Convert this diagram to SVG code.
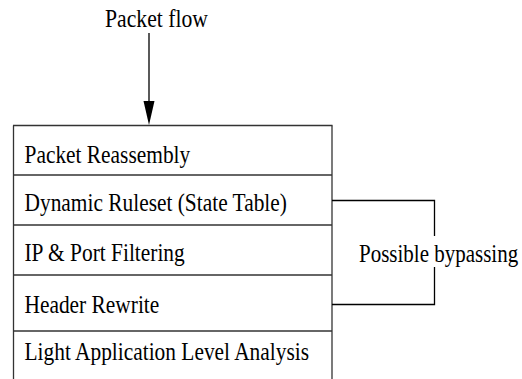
<svg xmlns="http://www.w3.org/2000/svg" width="522" height="379" viewBox="0 0 522 379">
<style>
text{font-family:"Liberation Serif","Times New Roman",serif;font-size:21.4px;fill:#000}
.ln{stroke:#333;stroke-width:1.3;fill:none}
.cn{stroke:#000;stroke-width:1.3;fill:none}
</style>
<rect width="522" height="379" fill="#fff"/>
<g id="label-packet-flow"><text style="font-size:21.7px" transform="translate(105,26.5) scale(1,1.12)">Packet flow</text></g>
<g id="stack">
<line class="ln" x1="13.5" y1="125.5" x2="13.5" y2="379"/>
<line class="ln" x1="332" y1="125.5" x2="332" y2="379"/>
<line class="ln" x1="13" y1="125.5" x2="332.5" y2="125.5"/>
</g>
<g id="row-packet-reassembly">
<text transform="translate(24.5,163) scale(1,1.15)">Packet Reassembly</text>
<line class="ln" x1="13" y1="175" x2="332" y2="175"/>
</g>
<g id="row-dynamic-ruleset">
<text transform="translate(24.5,211) scale(1,1.15)">Dynamic Ruleset (State Table)</text>
<line class="ln" x1="13" y1="225" x2="332" y2="225"/>
</g>
<g id="row-ip-port">
<text transform="translate(24.5,261) scale(1,1.15)">IP &amp; Port Filtering</text>
<line class="ln" x1="13" y1="275" x2="332" y2="275"/>
</g>
<g id="row-header-rewrite">
<text transform="translate(24.5,313) scale(1,1.15)">Header Rewrite</text>
<line class="ln" x1="13" y1="331" x2="332" y2="331"/>
</g>
<g id="row-light-app">
<text transform="translate(24.5,360) scale(1,1.15)">Light Application Level Analysis</text>
</g>
<g id="label-bypass"><text style="font-size:21px" transform="translate(359,262) scale(1,1.15)">Possible bypassing</text></g>
<g id="connectors">
<line class="cn" x1="149" y1="33" x2="149" y2="103"/>
<polygon points="143.5,101 154.5,101 149,125" fill="#000"/>
<polyline class="cn" points="332,200.5 434.5,200.5 434.5,236"/>
<polyline class="cn" points="434.5,267 434.5,304.5 332,304.5"/>
</g>
</svg>
